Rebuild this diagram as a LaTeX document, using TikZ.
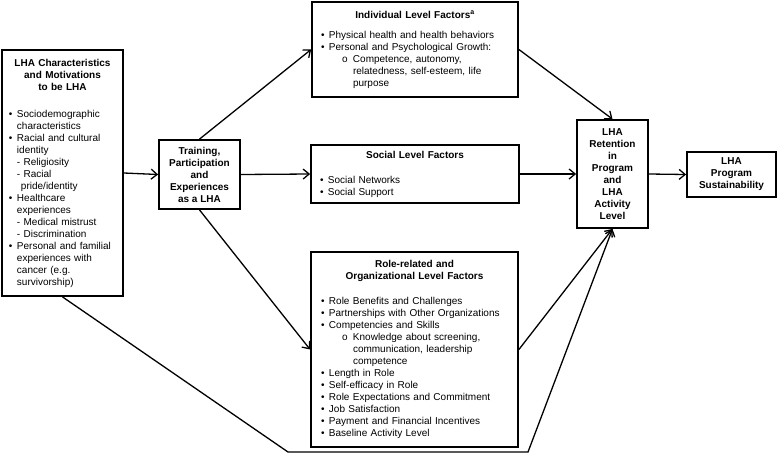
\documentclass[tikz,border=0pt]{standalone}
\usepackage{fontspec}
\setmainfont{Liberation Sans}
\usepackage{tikz}
\usetikzlibrary{arrows.meta,positioning}
\setlength{\parindent}{0pt}
\newcommand{\bitem}[1]{\makebox[8pt][l]{\textbullet}#1}
\newcommand{\bcont}[1]{\hspace*{8pt}#1}
\newcommand{\ditem}[1]{\hspace*{8pt}- #1}
\newcommand{\dcont}[1]{\hspace*{12pt}#1}
\newcommand{\oitem}[1]{\hspace*{21pt}\makebox[11pt][l]{o}#1}
\newcommand{\ocont}[1]{\hspace*{32pt}#1}

\begin{document}
\begin{tikzpicture}[x=1pt,y=-1pt,
  box/.style={draw, line width=1.8pt, align=left, inner ysep=2pt,
    font=\fontsize{10}{12}\selectfont},
  headbox/.style={box, align=center, font=\fontsize{10}{12}\selectfont\bfseries},
  link/.style={line width=1.3pt, -{Straight Barb[length=6pt,width=10pt]}}]
\useasboundingbox (0,0) rectangle (778,455);

\node[box, inner xsep=7pt, text width=107pt, minimum width=121pt, minimum height=246pt] (char) at (62.5,173) {%
  {\centering\bfseries LHA Characteristics\\and Motivations\\to be LHA\par}
  \vspace{15pt}
  \bitem{Sociodemographic}\\
  \bcont{characteristics}\\
  \bitem{Racial and cultural}\\
  \bcont{identity}\\
  \ditem{Religiosity}\\
  \ditem{Racial}\\
  \dcont{pride/identity}\\
  \bitem{Healthcare}\\
  \bcont{experiences}\\
  \ditem{Medical mistrust}\\
  \ditem{Discrimination}\\
  \bitem{Personal and familial}\\
  \bcont{experiences with}\\
  \bcont{cancer (e.g.}\\
  \bcont{survivorship)}};

\node[headbox, minimum width=81pt, minimum height=69pt] (train) at (199.5,174.5)
  {Training,\\Participation\\and\\Experiences\\as a LHA};

\node[box, inner xsep=9pt, text width=188pt, minimum width=206pt, minimum height=95pt] (indiv) at (415,49.5) {%
  {\centering\bfseries Individual Level Factors\textsuperscript{a}\par}
  \vspace{8pt}
  \bitem{Physical health and health behaviors}\\
  \bitem{Personal and Psychological Growth:}\\
  \oitem{Competence, autonomy,}\\
  \ocont{relatedness, self-esteem, life}\\
  \ocont{purpose}};

\node[box, inner xsep=9pt, text width=190pt, minimum width=208pt, minimum height=58pt] (social) at (415,174) {%
  {\centering\bfseries Social Level Factors\par}
  \vspace{13pt}
  \bitem{Social Networks}\\
  \bitem{Social Support}};

\node[box, inner xsep=10pt, text width=187pt, minimum width=207pt, minimum height=195pt] (role) at (414.5,349.5) {%
  {\centering\bfseries Role-related and\\Organizational Level Factors\par}
  \vspace{13pt}
  \bitem{Role Benefits and Challenges}\\
  \bitem{Partnerships with Other Organizations}\\
  \bitem{Competencies and Skills}\\
  \oitem{Knowledge about screening,}\\
  \ocont{communication, leadership}\\
  \ocont{competence}\\
  \bitem{Length in Role}\\
  \bitem{Self-efficacy in Role}\\
  \bitem{Role Expectations and Commitment}\\
  \bitem{Job Satisfaction}\\
  \bitem{Payment and Financial Incentives}\\
  \bitem{Baseline Activity Level}};

\node[headbox, minimum width=71pt, minimum height=108pt] (retain) at (612.5,174)
  {LHA\\Retention\\in\\Program\\and\\LHA\\Activity\\Level};

\node[headbox, minimum width=89pt, minimum height=45pt] (sustain) at (731.5,174.5)
  {LHA\\Program\\Sustainability};

\coordinate (dipL) at (288,452);
\coordinate (dipR) at (528,452);

\draw[link] (char.east) -- (train.west);
\draw[link] (train.north) -- (indiv.west);
\draw[link] (train.east) -- (social.west);
\draw[link] (train.south) -- (role.west);
\draw[link] (indiv.east) -- (retain.north);
\draw[link] (social.east) -- (retain.west);
\draw[link] (role.east) -- (retain.south);
\draw[link] (char.south) -- (dipL) -- (dipR) -- (retain.south);
\draw[link] (retain.east) -- (sustain.west);
\end{tikzpicture}
\end{document}
